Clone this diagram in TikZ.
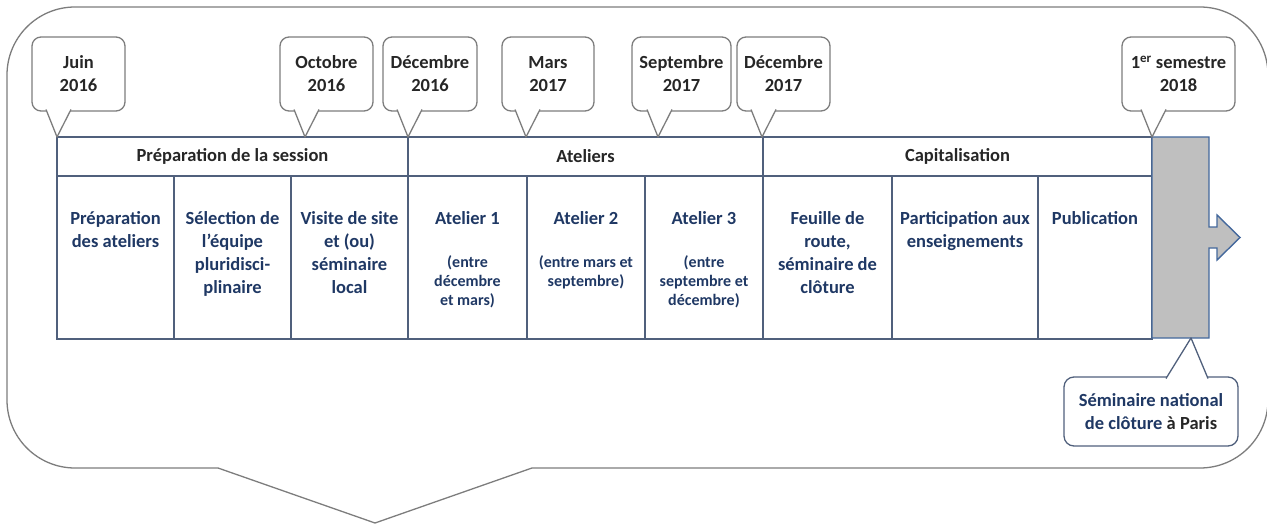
\documentclass[tikz,border=0pt]{standalone}
\usepackage{fontspec}
\setmainfont{Carlito}
\usetikzlibrary{positioning}
\definecolor{navytxt}{RGB}{31,56,100}
\definecolor{tabline}{RGB}{80,96,124}
\definecolor{bubblegray}{RGB}{125,125,125}
\definecolor{headtxt}{RGB}{38,38,38}
\definecolor{barfill}{RGB}{191,191,191}
\definecolor{barline}{RGB}{68,104,156}

\tikzset{
    bigfont/.style={font=\fontsize{18.5}{23}\selectfont\bfseries},
    smallfont/.style={font=\fontsize{16}{19}\selectfont\bfseries},
    headcell/.style={draw=tabline, line width=1.4pt, anchor=north west, minimum height=39pt, inner sep=0pt, outer sep=0pt, text=headtxt, bigfont},
    bodycell/.style={draw=tabline, line width=1.4pt, anchor=north west, minimum height=163pt, inner sep=0pt, outer sep=0pt},
    celltext/.style={align=center, anchor=north, inner sep=0pt, text=navytxt, bigfont},
    subtext/.style={align=center, anchor=north, inner sep=0pt, text=navytxt, smallfont},
    datebox/.style={draw=bubblegray, line width=1.3pt, rounded corners=9pt, minimum height=74pt, align=center, inner sep=2pt, text=headtxt, bigfont},
    pointer/.style={draw=bubblegray, line width=1.3pt, fill=white, line join=round},
    outerline/.style={draw=bubblegray, line width=1.3pt}
}

\begin{document}
\begin{tikzpicture}[x=1pt, y=-1pt]
    \useasboundingbox (0,0) rectangle (1267,524);

    \draw[outerline, rounded corners=68pt] (218,468) -- (7,468) -- (7,7) -- (1268,7) -- (1268,468) -- (532,468);
    \draw[outerline] (218,468) -- (375,523) -- (532,468);

    \node[headcell, minimum width=351pt] (prep) at (57,137) {Préparation de la session};
    \node[headcell, minimum width=355pt] (atel) at (408,137) {Ateliers};
    \node[headcell, minimum width=389pt] (capi) at (763,137) {Capitalisation};

    \node[bodycell, minimum width=117pt] (c1) at (57,176) {};
    \node[bodycell, minimum width=117pt] (c2) at (174,176) {};
    \node[bodycell, minimum width=117pt] (c3) at (291,176) {};
    \node[bodycell, minimum width=119pt] (c4) at (408,176) {};
    \node[bodycell, minimum width=118pt] (c5) at (527,176) {};
    \node[bodycell, minimum width=118pt] (c6) at (645,176) {};
    \node[bodycell, minimum width=129pt] (c7) at (763,176) {};
    \node[bodycell, minimum width=146pt] (c8) at (892,176) {};
    \node[bodycell, minimum width=114pt] (c9) at (1038,176) {};

    \node[celltext] (t1) at (115.5,211) {Préparation\\des ateliers};
    \node[celltext] (t2) at (232.5,211) {Sélection de\\l’équipe\\pluridisci-\\plinaire};
    \node[celltext] (t3) at (349.5,211) {Visite de site\\et (ou)\\séminaire\\local};
    \node[celltext] (t4) at (467.5,211) {Atelier 1};
    \node[celltext] (t5) at (586,211) {Atelier 2};
    \node[celltext] (t6) at (704,211) {Atelier 3};
    \node[celltext] (t7) at (827.5,211) {Feuille de\\route,\\séminaire de\\clôture};
    \node[celltext] (t8) at (965,211) {Participation aux\\enseignements};
    \node[celltext] (t9) at (1095,211) {Publication};

    \node[subtext] (s4) at (467.5,255) {(entre\\décembre\\et mars)};
    \node[subtext] (s5) at (586,255) {(entre mars et\\septembre)};
    \node[subtext] (s6) at (704,255) {(entre\\septembre et\\décembre)};

    \draw[draw=barline, fill=barfill, line width=1.4pt] (1152,137) -- (1209,137) -- (1209,227) -- (1217,227) -- (1217,215) -- (1240,237.5) -- (1217,260) -- (1217,248) -- (1209,248) -- (1209,338) -- (1152,338) -- cycle;

    \coordinate (juinpt) at (57,137);
    \coordinate (octpt) at (305,137);
    \coordinate (decApt) at (408,137);
    \coordinate (marspt) at (526,137);
    \coordinate (septpt) at (658,137);
    \coordinate (decBpt) at (762,137);
    \coordinate (sempt) at (1152,137);
    \coordinate (barfoot) at (1191,338);

    \node[datebox, minimum width=93pt] (juin) at (78.5,74) {Juin\\2016};
    \node[datebox, minimum width=93pt] (oct) at (326.5,74) {Octobre\\2016};
    \node[datebox, minimum width=94pt] (decA) at (430,74) {Décembre\\2016};
    \node[datebox, minimum width=92pt] (mars) at (548,74) {Mars\\2017};
    \node[datebox, minimum width=99pt] (sept) at (681.5,74) {Septembre\\2017};
    \node[datebox, minimum width=93pt] (decB) at (783.5,74) {Décembre\\2017};
    \node[datebox, minimum width=113pt] (sem) at (1178.5,74) {1\textsuperscript{er} semestre\\2018};

    \draw[pointer] (juinpt) ++(-11,-27.5) -- (juinpt) -- ++(14,-27.5);
    \draw[pointer] (octpt) ++(-11,-27.5) -- (octpt) -- ++(14,-27.5);
    \draw[pointer] (decApt) ++(-11,-27.5) -- (decApt) -- ++(14,-27.5);
    \draw[pointer] (marspt) ++(-11,-27.5) -- (marspt) -- ++(14,-27.5);
    \draw[pointer] (septpt) ++(-11,-27.5) -- (septpt) -- ++(14,-27.5);
    \draw[pointer] (decBpt) ++(-11,-27.5) -- (decBpt) -- ++(14,-27.5);
    \draw[pointer] (sempt) ++(-11,-27.5) -- (sempt) -- ++(14,-27.5);

    \node[datebox, draw=tabline, minimum width=174pt, minimum height=69pt, rounded corners=10pt, text=navytxt] (semin) at (1151,411.5) {Séminaire national\\de clôture {\color{headtxt}à Paris}};
    \draw[pointer, draw=tabline] (barfoot) ++(-25,40.5) -- (barfoot) -- ++(17,40.5);
\end{tikzpicture}
\end{document}
